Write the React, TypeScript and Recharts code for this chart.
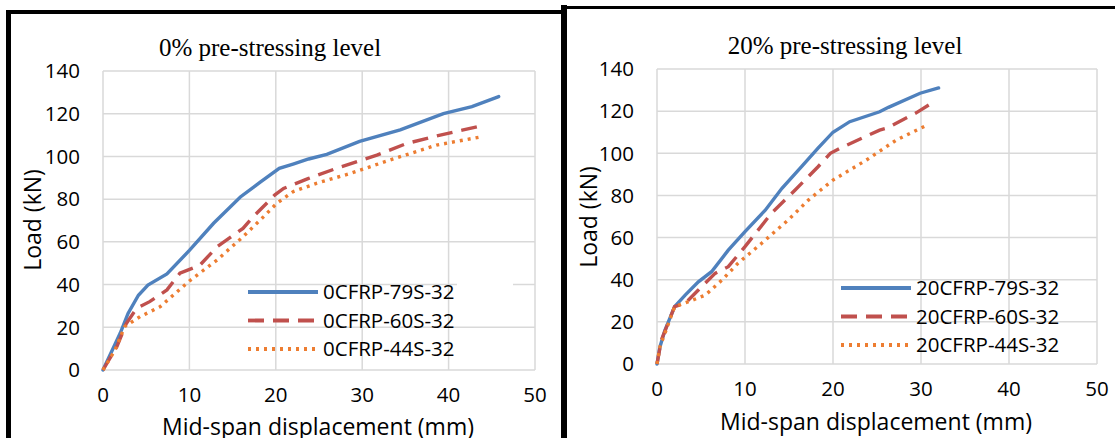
import React from "react";
import { LineChart, Line, XAxis, YAxis, CartesianGrid } from "recharts";

// --- data ---
const xTicks = [0, 10, 20, 30, 40, 50];
const yTicks = [0, 20, 40, 60, 80, 100, 120, 140];

const titles = ["0% pre-stressing level", "20% pre-stressing level"];
const names0 = ["0CFRP-79S-32", "0CFRP-60S-32", "0CFRP-44S-32"];
const names20 = ["20CFRP-79S-32", "20CFRP-60S-32", "20CFRP-44S-32"];

// 0% pre-stressing
const d0_79 = [0, 2.0, 2.9, 4.1, 5.2, 7.4, 10.0, 12.8, 15.9, 18.2, 20.4, 22.0, 23.8, 25.9, 29.7, 34.4, 39.4, 42.7, 45.8];
const l0_79 = [0, 17.3, 26.5, 35, 39.8, 45, 56, 68.7, 81, 88, 94.4, 96.4, 98.8, 101, 107, 112.4, 120, 123.3, 128];
const d0_60 = [0, 1.6, 2.7, 3.9, 5.4, 7.4, 8.9, 11.2, 13.2, 16.2, 17.4, 19.9, 20.9, 23.8, 27, 31.7, 35.1, 38.2, 41.7, 44.2];
const l0_60 = [0, 10.9, 21.8, 28.9, 32, 37.5, 45.3, 49, 57.7, 66.3, 71.8, 82, 85, 89.7, 94.4, 100.6, 106, 109.2, 112.4, 114.7];
const d0_44 = [0, 1.4, 2.5, 4.3, 6.6, 10.1, 13.2, 16.2, 18.6, 20.1, 22, 24.7, 28.6, 33.2, 38.6, 43.8];
const l0_44 = [0, 9.4, 20.3, 25, 29.6, 42, 51.5, 62.4, 71.8, 78, 83.5, 87.4, 92, 98.3, 105.3, 109.2];

// 20% pre-stressing
const d20_79 = [0, 0.34, 0.9, 2.0, 3.2, 4.7, 6.2, 8.1, 10, 12.3, 14.2, 16.4, 18.3, 20, 21.9, 25.3, 26.3, 29.9, 32];
const l20_79 = [0, 8.2, 16, 27.2, 32.7, 39, 43.8, 54, 62.8, 73, 83.4, 93.6, 102.4, 110, 115, 119.7, 121.8, 128.5, 131];
const d20_60 = [0, 0.5, 2.0, 3.2, 4.7, 6.6, 8.1, 10, 13, 15.7, 18.3, 19.7, 20.8, 25.3, 26.1, 29.5, 31];
const l20_60 = [0, 11.4, 27.2, 28.8, 35.1, 43, 46.2, 55.7, 71.5, 82.6, 93.6, 100, 102.4, 111, 111.9, 119.3, 123.2];
const d20_44 = [0, 0.34, 2.0, 3.6, 5.5, 7.4, 9.2, 11.9, 14.9, 17.2, 20, 23.8, 27.2, 30.5];
const l20_44 = [0, 8.2, 27.2, 29.6, 32.7, 39.9, 47.8, 57.3, 68.3, 77.8, 87.3, 96.8, 106.3, 113];

const toPts = (xs: number[], ys: number[]) => xs.map((x, i) => ({ x, y: ys[i] }));

const FONT = "'Open Sans', 'Liberation Sans', sans-serif";
const STYLES = [
    { color: "#4F81BD", dash: undefined as string | undefined, cap: "round" as const },
    { color: "#C0504D", dash: "16 9", cap: "butt" as const },
    { color: "#ED7D31", dash: "3 5", cap: "butt" as const },
];

// legend drawn by hand, placed inside the plot like in Excel
const LegendBox = ({ names, left, top }: { names: string[]; left: number; top: number }) => (
    <svg width={240} height={90} style={{ position: "absolute", left, top, overflow: "visible" }}>
        {names.map((n, i) => {
            const y = 14 + i * 28.5;
            return (
                <g key={n}>
                    <line x1={0} x2={70} y1={y} y2={y} stroke={STYLES[i].color} strokeWidth={3.8}
                        strokeDasharray={STYLES[i].dash} />
                    <text x={75} y={y} dy="0.36em" fontSize={20.5} fontFamily={FONT} fill="#000">{n}</text>
                </g>
            );
        })}
    </svg>
);

interface PanelProps {
    left: number;
    width: number;
    top: number;
    yAxisW: number;
    xAxisH: number;
    right: number;
    series: { x: number; y: number }[][];
    names: string[];
}

function Panel({ left, width, top, yAxisW, xAxisH, right, series, names }: PanelProps) {
    return (
        <div style={{ position: "absolute", left, top: 0 }}>
            <LineChart width={width} height={438} margin={{ top, right, bottom: 0, left: 0 }}>
                <CartesianGrid stroke="#D9D9D9" strokeWidth={1.5} />
                <XAxis type="number" dataKey="x" domain={[0, 50]} ticks={xTicks} height={xAxisH}
                    axisLine={false} tickLine={false} tickSize={0} tickMargin={17}
                    tick={{ fill: "#000", fontSize: 20.5, fontFamily: FONT }} />
                <YAxis type="number" dataKey="y" domain={[0, 140]} ticks={yTicks} width={yAxisW}
                    axisLine={false} tickLine={false} tickSize={0} tickMargin={23}
                    tick={{ fill: "#000", fontSize: 20.5, fontFamily: FONT }} />
                {series.map((pts, i) => (
                    <Line key={names[i]} data={pts} dataKey="y" name={names[i]} type="linear"
                        stroke={STYLES[i].color} strokeWidth={3.4} strokeDasharray={STYLES[i].dash}
                        strokeLinecap={STYLES[i].cap} dot={false} isAnimationActive={false} />
                ))}
            </LineChart>
        </div>
    );
}

const txt: React.CSSProperties = { position: "absolute", whiteSpace: "nowrap", color: "#000", lineHeight: 1 };

export default function App() {
    const s0 = [toPts(d0_79, l0_79), toPts(d0_60, l0_60), toPts(d0_44, l0_44)];
    const s20 = [toPts(d20_79, l20_79), toPts(d20_60, l20_60), toPts(d20_44, l20_44)];
    return (
        <div style={{ position: "absolute", left: 0, top: 0, width: 1115, height: 438, background: "#fff", overflow: "hidden" }}>
            <Panel left={0} width={560} top={71} yAxisW={103} xAxisH={68} right={25} series={s0} names={names0} />
            <Panel left={567} width={548} top={69} yAxisW={90} xAxisH={74} right={18} series={s20} names={names20} />

            {/* white patch over the 40 gridline in the left legend */}
            <div style={{ position: "absolute", left: 457, top: 281, width: 56, height: 6, background: "#fff" }} />

            <LegendBox names={names0} left={248} top={278} />
            <LegendBox names={names20} left={841} top={274} />

            {/* titles */}
            <div style={{ ...txt, left: 270, top: 47, transform: "translate(-50%, -50%)", fontFamily: "'Liberation Serif', serif", fontSize: 25 }}>{titles[0]}</div>
            <div style={{ ...txt, left: 845, top: 45, transform: "translate(-50%, -50%)", fontFamily: "'Liberation Serif', serif", fontSize: 25 }}>{titles[1]}</div>

            {/* axis titles */}
            <div style={{ ...txt, left: 318, top: 426, transform: "translate(-50%, -50%)", fontFamily: FONT, fontSize: 23 }}>Mid-span displacement (mm)</div>
            <div style={{ ...txt, left: 876, top: 421, transform: "translate(-50%, -50%)", fontFamily: FONT, fontSize: 23 }}>Mid-span displacement (mm)</div>
            <div style={{ ...txt, left: 32, top: 220, transform: "translate(-50%, -50%) rotate(-90deg)", fontFamily: FONT, fontSize: 23 }}>Load (kN)</div>
            <div style={{ ...txt, left: 588, top: 217, transform: "translate(-50%, -50%) rotate(-90deg)", fontFamily: FONT, fontSize: 23 }}>Load (kN)</div>

            {/* panel frames */}
            <div style={{ position: "absolute", left: 6, top: 10, width: 5, height: 428, background: "#000" }} />
            <div style={{ position: "absolute", left: 6, top: 10, width: 557, height: 4, background: "#000" }} />
            <div style={{ position: "absolute", left: 561, top: 5, width: 6, height: 433, background: "#000" }} />
            <div style={{ position: "absolute", left: 561, top: 6, width: 554, height: 3, background: "#000" }} />
        </div>
    );
}
